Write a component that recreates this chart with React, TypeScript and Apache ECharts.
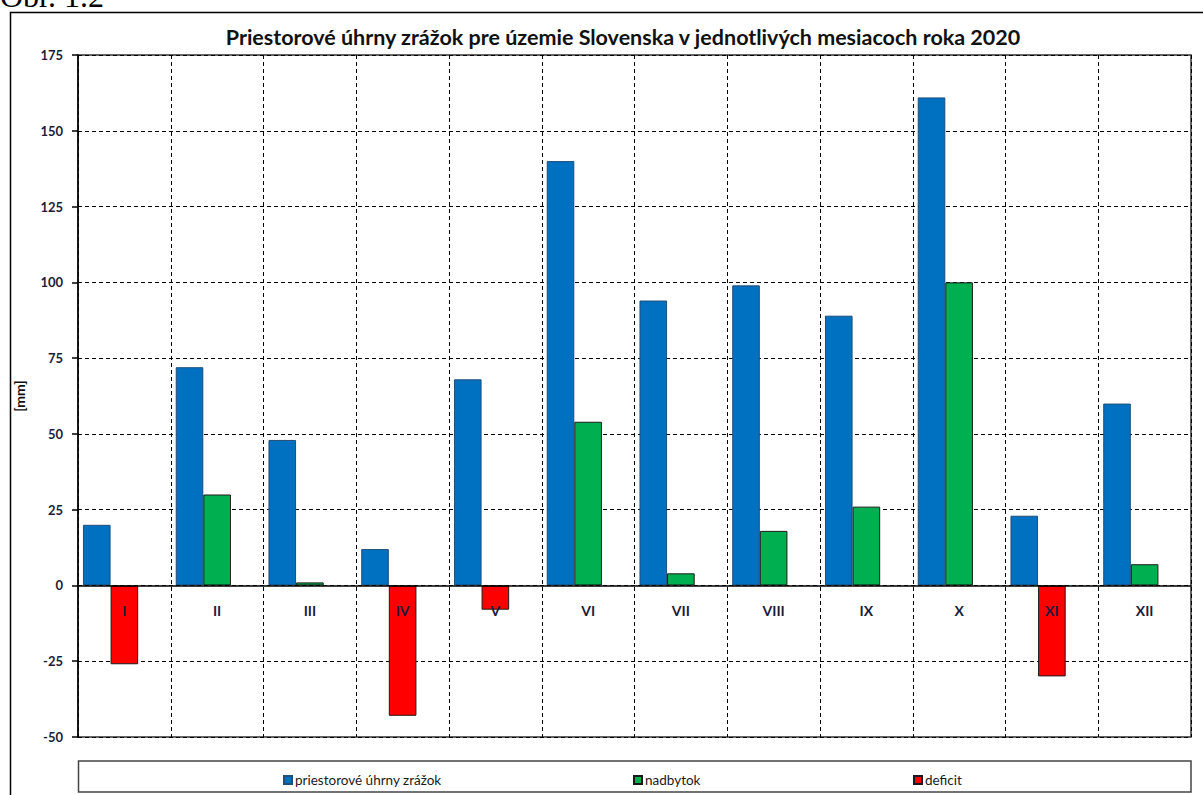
import React, { useEffect, useRef } from "react";
import * as echarts from "echarts";

const months = ["I", "II", "III", "IV", "V", "VI", "VII", "VIII", "IX", "X", "XI", "XII"];
const uhrny = [20, 72, 48, 12, 68, 140, 94, 99, 89, 161, 23, 60];
const nadbytok: (number | string)[] = ["-", 30, 1, "-", "-", 54, 4, 18, 26, 100, "-", 7];
const deficit: (number | string)[] = [-26, "-", "-", -43, -8, "-", "-", "-", "-", "-", -30, "-"];
const yTicks = { min: -50, max: 175, interval: 25 };

const titleText = "Priestorové úhrny zrážok pre územie Slovenska v jednotlivých mesiacoch roka 2020";
const names = ["priestorové úhrny zrážok", "nadbytok", "deficit"];

const FONT = "Lato";
const LABEL_COLOR = "#1c1c3a";

export default function App() {
  const ref = useRef<HTMLDivElement>(null);
  useEffect(() => {
    if (!ref.current) return;
    const chart = echarts.init(ref.current, undefined, { renderer: "svg" });
    const barW = 27.6;
    const gridTop = 55;
    const gridBottomY = 737;
    const zeroY = gridTop + ((yTicks.max - 0) / (yTicks.max - yTicks.min)) * (gridBottomY - gridTop);
    const legendText = { fontFamily: FONT, fontSize: 13.5, color: "#1a1a1a", padding: [0, 0, 0, -2] };
    chart.setOption({
      animation: false,
      backgroundColor: "#fff",
      title: {
        text: titleText,
        left: 618,
        top: 21,
        textAlign: "center",
        textStyle: { fontFamily: FONT, fontWeight: "bold", fontSize: 21.5, color: "#111" },
      },
      grid: {
        left: 78,
        right: 12,
        top: gridTop,
        bottom: 795 - gridBottomY,
        show: true,
        borderColor: "#333",
        borderWidth: 1.5,
        backgroundColor: "transparent",
      },
      legend: [
        { data: [names[0]], left: 278, top: 768, itemWidth: 8, itemHeight: 8, icon: "rect", textStyle: legendText },
        { data: [names[1]], left: 628, top: 768, itemWidth: 8, itemHeight: 8, icon: "rect", textStyle: legendText },
        { data: [names[2]], left: 908, top: 768, itemWidth: 8, itemHeight: 8, icon: "rect", textStyle: legendText },
      ],
      xAxis: {
        type: "category",
        data: months,
        z: 10,
        position: "bottom",
        offset: -(gridBottomY - zeroY),
        axisLine: { onZero: false, lineStyle: { color: "#000", width: 1.5 } },
        axisTick: { show: false },
        axisLabel: {
          margin: 18,
          fontFamily: FONT,
          fontWeight: "bold",
          fontSize: 14,
          color: LABEL_COLOR,
          interval: 0,
        },
        splitLine: {
          show: true,
          interval: 0,
          lineStyle: { color: "#000", type: [4, 3], width: 1 },
        },
      },
      yAxis: {
        type: "value",
        min: yTicks.min,
        max: yTicks.max,
        interval: yTicks.interval,
        name: "[mm]",
        nameLocation: "middle",
        nameRotate: 90,
        nameGap: 52,
        nameTextStyle: { fontFamily: FONT, fontWeight: "bold", fontSize: 14, color: "#111" },
        axisLine: { show: true, lineStyle: { color: "#000", width: 1.5 } },
        axisTick: { show: true, length: 6, inside: false, lineStyle: { color: "#000", width: 1.5 } },
        axisLabel: {
          margin: 15,
          fontFamily: FONT,
          fontWeight: "bold",
          fontSize: 13,
          color: LABEL_COLOR,
        },
        splitLine: { show: true, lineStyle: { color: "#000", type: [4, 3], width: 1 } },
      },
      series: [
        {
          name: names[0],
          type: "bar",
          data: uhrny,
          barWidth: barW,
          barGap: "0%",
          itemStyle: { color: "#0070C0", borderColor: "#1F4E79", borderWidth: 1 },
        },
        {
          name: names[1],
          type: "bar",
          stack: "d",
          data: nadbytok,
          barWidth: barW,
          barGap: "0%",
          itemStyle: { color: "#00B050", borderColor: "#1a1a1a", borderWidth: 1 },
        },
        {
          name: names[2],
          type: "bar",
          stack: "d",
          data: deficit,
          barWidth: barW,
          barGap: "0%",
          itemStyle: { color: "#FF0000", borderColor: "#1a1a1a", borderWidth: 1 },
        },
        {
          name: "slot",
          type: "bar",
          data: [],
          barWidth: barW,
          barGap: "0%",
        },
      ],
      graphic: [
        {
          type: "rect",
          shape: { x: 10.5, y: 12.5, width: 1200, height: 800 },
          style: { fill: "none", stroke: "#000", lineWidth: 1.5 },
          silent: true,
          z: -1,
        },
        {
          type: "rect",
          shape: { x: 78.5, y: 761, width: 1112.5, height: 31 },
          style: { fill: "none", stroke: "#444", lineWidth: 1.5 },
          silent: true,
        },
        {
          type: "text",
          x: 0,
          y: 12,
          style: {
            text: "Obr. 1.2",
            fontFamily: "Liberation Serif",
            fontSize: 32,
            fill: "#000",
            verticalAlign: "bottom",
          },
          silent: true,
        },
      ],
    });
    return () => chart.dispose();
  }, []);
  return (
    <div
      ref={ref}
      style={{ position: "absolute", left: 0, top: 0, width: 1203, height: 795 }}
    />
  );
}
